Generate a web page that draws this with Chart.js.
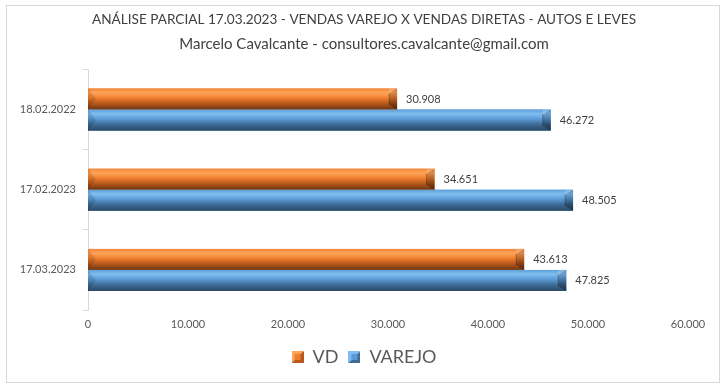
<!DOCTYPE html>
<html>
<head>
<meta charset="utf-8">
<script src="https://cdn.jsdelivr.net/npm/chart.js@4/dist/chart.umd.min.js"></script>
<style>
html,body{margin:0;padding:0;background:#fff;}
#wrap{position:relative;width:726px;height:388px;}
</style>
</head>
<body>
<div id="wrap"><canvas id="c" width="726" height="388"></canvas></div>
<script>
const categories = ['18.02.2022', '17.02.2023', '17.03.2023'];
const vdValues = [30908, 34651, 43613];
const varejoValues = [46272, 48505, 47825];
const seriesNames = ['VD', 'VAREJO'];
const xTicks = [0, 10000, 20000, 30000, 40000, 50000, 60000];
const titleText = 'ANÁLISE PARCIAL 17.03.2023 - VENDAS VAREJO X VENDAS DIRETAS - AUTOS E LEVES';
const subtitleText = 'Marcelo Cavalcante - consultores.cavalcante@gmail.com';

const FONT = 'Lato, "Open Sans", sans-serif';
const fmt = v => String(Math.round(v)).replace(/\B(?=(\d{3})+(?!\d))/g, '.');

const palettes = [
  {base:'#ED7D31', stops:[[0,'#F0853A'],[0.2,'#FFA458'],[0.45,'#F07F2F'],[0.7,'#B9591C'],[1,'#6E3510']]},
  {base:'#5B9BD5', stops:[[0,'#5F9FD8'],[0.2,'#80BDF0'],[0.45,'#5B9BD5'],[0.7,'#3E6C97'],[1,'#2B4866']]}
];

function legendIcon(p){
  const c = document.createElement('canvas');
  c.width = 12; c.height = 12;
  const x = c.getContext('2d');
  x.fillStyle = p.stops[1][1];
  x.beginPath(); x.moveTo(0,0); x.lineTo(12,0); x.lineTo(0,12); x.closePath(); x.fill();
  x.fillStyle = p.stops[3][1];
  x.beginPath(); x.moveTo(12,0); x.lineTo(12,12); x.lineTo(0,12); x.closePath(); x.fill();
  x.fillStyle = p.base;
  x.fillRect(3,3,6,6);
  return c;
}

const borderPlugin = {
  id:'borderPlugin',
  beforeDraw(chart){
    const ctx = chart.ctx;
    ctx.save();
    ctx.strokeStyle = '#D9D9D9';
    ctx.lineWidth = 1;
    ctx.strokeRect(6.5, 5.5, 713, 377);
    ctx.restore();
  }
};

// center title, subtitle and legend on the whole frame rather than the padded area
const centerBoxesPlugin = {
  id:'centerBoxes',
  afterLayout(chart){
    chart.boxes.forEach(box => {
      if (box instanceof Chart.Scale) return;
      box.left += 20;
      box.right += 20;
    });
  }
};

const bevelPlugin = {
  id:'bevelPlugin',
  afterDatasetsDraw(chart){
    const ctx = chart.ctx;
    chart.data.datasets.forEach((ds, di) => {
      const meta = chart.getDatasetMeta(di);
      if (meta.hidden) return;
      const p = palettes[di];
      meta.data.forEach((el, i) => {
        const x0 = el.base, x1 = el.x;
        const y0 = el.y - el.height/2, y1 = el.y + el.height/2;
        const h = y1 - y0;
        const b = Math.min(8, h*0.4);
        const g = ctx.createLinearGradient(0, y0, 0, y1);
        p.stops.forEach(s => g.addColorStop(s[0], s[1]));
        ctx.save();
        ctx.fillStyle = g;
        ctx.fillRect(x0, y0, x1 - x0, h);
        ctx.fillStyle = 'rgba(0,0,0,0.12)';
        ctx.beginPath();
        ctx.moveTo(x0, y0); ctx.lineTo(x0 + b, y0 + h/2); ctx.lineTo(x0, y1); ctx.closePath(); ctx.fill();
        const g2 = ctx.createLinearGradient(0, y0, 0, y1);
        g2.addColorStop(0, 'rgba(0,0,0,0.10)');
        g2.addColorStop(1, 'rgba(0,0,0,0.35)');
        ctx.fillStyle = g2;
        ctx.beginPath();
        ctx.moveTo(x1 - b, y0 + b*0.6); ctx.lineTo(x1, y0); ctx.lineTo(x1, y1); ctx.lineTo(x1 - b, y1 - b*0.6); ctx.closePath(); ctx.fill();
        ctx.fillStyle = 'rgba(255,255,255,0.18)';
        ctx.beginPath();
        ctx.moveTo(x1 - b, y0); ctx.lineTo(x1, y0); ctx.lineTo(x1 - b, y0 + b*0.6); ctx.closePath(); ctx.fill();
        ctx.strokeStyle = 'rgba(0,0,0,0.25)';
        ctx.lineWidth = 1;
        ctx.beginPath();
        ctx.moveTo(x1 - b, y0 + b*0.6); ctx.lineTo(x1 - b, y1 - b*0.6); ctx.stroke();
        ctx.fillStyle = '#404040';
        ctx.font = '11px ' + FONT;
        ctx.textBaseline = 'middle';
        ctx.textAlign = 'left';
        ctx.fillText(fmt(ds.data[i]), x1 + 9, el.y);
        ctx.restore();
      });
    });
  }
};

new Chart(document.getElementById('c'), {
  type:'bar',
  data:{
    labels:categories,
    datasets:[
      {label:seriesNames[0], data:vdValues, backgroundColor:palettes[0].base, pointStyle:legendIcon(palettes[0])},
      {label:seriesNames[1], data:varejoValues, backgroundColor:palettes[1].base, pointStyle:legendIcon(palettes[1])}
    ]
  },
  options:{
    indexAxis:'y',
    responsive:false,
    animation:false,
    devicePixelRatio:1,
    categoryPercentage:0.525,
    barPercentage:1,
    layout:{padding:{left:0, right:38, top:0, bottom:12}},
    scales:{
      x:{
        min:0, max:60000,
        afterBuildTicks(scale){ scale.ticks = xTicks.map(v => ({value:v})); },
        afterFit(scale){ scale.height = 28; },
        grid:{display:false, drawTicks:false},
        border:{display:false},
        ticks:{padding:8, color:'#595959', font:{family:FONT, size:11}, callback:v => fmt(v)}
      },
      y:{
        afterFit(scale){ scale.width = 88; },
        grid:{offset:true, drawOnChartArea:false, drawTicks:true, tickLength:5, color:'#D9D9D9'},
        border:{display:true, color:'#D9D9D9'},
        ticks:{padding:7, color:'#595959', font:{family:FONT, size:11}}
      }
    },
    plugins:{
      title:{display:true, text:titleText, color:'#404040', font:{family:FONT, size:13.6, weight:'normal', lineHeight:1.2}, padding:{top:11.8, bottom:7.4}},
      subtitle:{display:true, text:subtitleText, color:'#404040', font:{family:FONT, size:15, weight:'normal', lineHeight:1.2}, padding:{top:0, bottom:16}},
      legend:{position:'bottom', labels:{usePointStyle:true, boxWidth:12, boxHeight:12, padding:10, color:'#595959', font:{family:FONT, size:18}}},
      tooltip:{enabled:false}
    }
  },
  plugins:[borderPlugin, centerBoxesPlugin, bevelPlugin]
});
</script>
</body>
</html>
